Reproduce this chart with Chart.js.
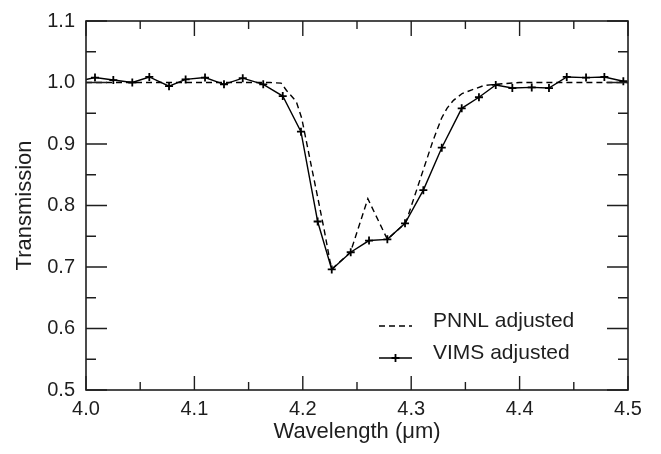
<!DOCTYPE html>
<html>
<head>
<meta charset="utf-8">
<script src="https://cdn.jsdelivr.net/npm/chart.js@4.4.1/dist/chart.umd.min.js"></script>
<style>
  html, body { margin: 0; padding: 0; background: #fff; }
  canvas { display: block; }
</style>
</head>
<body>
<canvas id="grafica" width="661" height="454"></canvas>
<script>
// datos
const vimsWavelength = [3.9915, 4.0083, 4.0252, 4.0427, 4.0584, 4.0766, 4.0919, 4.1098, 4.1273, 4.1446,
  4.1635, 4.1815, 4.1983, 4.2137, 4.2267, 4.2442, 4.2611, 4.2780, 4.2943, 4.3112,
  4.3282, 4.3466, 4.3625, 4.3780, 4.3933, 4.4112, 4.4271, 4.4435, 4.4613, 4.4782, 4.4957];
const vimsTransmission = [1.0015, 1.008, 1.004, 1.000, 1.009, 0.994, 1.005, 1.008, 0.997, 1.007,
  0.997, 0.978, 0.920, 0.774, 0.696, 0.724, 0.743, 0.745, 0.771, 0.825,
  0.894, 0.958, 0.976, 0.996, 0.991, 0.992, 0.991, 1.009, 1.008, 1.009, 1.002];

const pnnlWavelength = [4.000, 4.100, 4.170, 4.180, 4.185, 4.194, 4.199, 4.208, 4.214, 4.220,
  4.225, 4.227, 4.244, 4.260, 4.278, 4.295, 4.320, 4.328, 4.333, 4.339,
  4.347, 4.356, 4.367, 4.377, 4.400, 4.500];
const pnnlTransmission = [1.000, 1.000, 1.000, 0.999, 0.987, 0.969, 0.942, 0.863, 0.811, 0.758,
  0.710, 0.697, 0.724, 0.811, 0.745, 0.772, 0.905, 0.942, 0.958, 0.971,
  0.982, 0.988, 0.995, 0.997, 1.000, 1.000];

const xTicks = ["4.0", "4.1", "4.2", "4.3", "4.4", "4.5"];
const yTicks = ["0.5", "0.6", "0.7", "0.8", "0.9", "1.0", "1.1"];

const ink = "#1e1e1e";
const fam = "'Liberation Sans', Arial, sans-serif";

// marco con marcas hacia dentro en los cuatro lados
const marcoEjes = {
  id: "marcoEjes",
  afterDatasetsDraw(chart) {
    const { ctx, chartArea: a, scales: { x, y } } = chart;
    ctx.save();
    ctx.strokeStyle = ink;
    ctx.lineWidth = 1.6;
    ctx.strokeRect(a.left, a.top, a.right - a.left, a.bottom - a.top);
    ctx.lineWidth = 1.4;
    ctx.beginPath();
    const ny = Math.round((y.max - y.min) / 0.05);
    for (let i = 0; i <= ny; i++) {
      const py = y.getPixelForValue(y.min + i * 0.05);
      const len = i % 2 === 0 ? 21 : 10;
      ctx.moveTo(a.left, py); ctx.lineTo(a.left + len, py);
      ctx.moveTo(a.right, py); ctx.lineTo(a.right - len, py);
    }
    const nx = Math.round((x.max - x.min) / 0.05);
    for (let i = 0; i <= nx; i++) {
      const px = x.getPixelForValue(x.min + i * 0.05);
      const major = i % 2 === 0;
      ctx.moveTo(px, a.bottom); ctx.lineTo(px, a.bottom - (major ? 14 : 8));
      ctx.moveTo(px, a.top); ctx.lineTo(px, a.top + (major ? 15 : 8));
    }
    ctx.stroke();
    ctx.restore();
  }
};

// leyenda dentro del área, abajo a la derecha
const leyenda = {
  id: "leyenda",
  afterDatasetsDraw(chart) {
    const { ctx, chartArea: a } = chart;
    const x0 = a.right - 249, x1 = a.right - 216, tx = a.right - 195;
    const rows = [a.bottom - 64, a.bottom - 32];
    ctx.save();
    chart.data.datasets.forEach((ds, i) => {
      const yy = rows[i];
      ctx.strokeStyle = ds.borderColor;
      ctx.lineWidth = ds.borderWidth;
      ctx.setLineDash(ds.borderDash || []);
      ctx.beginPath();
      ctx.moveTo(x0, yy); ctx.lineTo(x1, yy);
      ctx.stroke();
      ctx.setLineDash([]);
      if (ds.pointRadius > 0) {
        const cx = (x0 + x1) / 2, r = ds.pointRadius;
        ctx.lineWidth = ds.pointBorderWidth;
        ctx.beginPath();
        ctx.moveTo(cx - r, yy); ctx.lineTo(cx + r, yy);
        ctx.moveTo(cx, yy - r); ctx.lineTo(cx, yy + r);
        ctx.stroke();
      }
      ctx.fillStyle = ink;
      ctx.font = "21px " + fam;
      ctx.textBaseline = "alphabetic";
      ctx.fillText(ds.label, tx, yy + 1);
    });
    ctx.restore();
  }
};

const ctx = document.getElementById("grafica").getContext("2d");

const chart = new Chart(ctx, {
  type: "line",
  data: {
    datasets: [
      {
        label: "PNNL adjusted",
        data: pnnlWavelength.map((w, i) => ({ x: w, y: pnnlTransmission[i] })),
        borderColor: "#000",
        borderWidth: 1.4,
        borderDash: [6, 4],
        pointRadius: 0,
        tension: 0
      },
      {
        label: "VIMS adjusted",
        data: vimsWavelength.map((w, i) => ({ x: w, y: vimsTransmission[i] })),
        borderColor: "#000",
        borderWidth: 1.4,
        pointStyle: "cross",
        pointRadius: 4,
        pointBorderWidth: 1.8,
        pointBorderColor: "#000",
        tension: 0
      }
    ]
  },
  options: {
    responsive: false,
    animation: false,
    devicePixelRatio: 1,
    layout: { padding: { top: 10, right: 33, left: 0, bottom: 0 } },
    plugins: { legend: { display: false }, tooltip: { enabled: false } },
    scales: {
      x: {
        type: "linear",
        min: 4.0,
        max: 4.5,
        grid: { display: false, drawTicks: false },
        border: { display: false },
        ticks: {
          stepSize: 0.1,
          padding: 9,
          maxRotation: 0,
          color: ink,
          font: { family: fam, size: 20, lineHeight: 1 },
          callback: (v, i) => xTicks[i]
        },
        title: {
          display: true,
          text: "Wavelength (μm)",
          color: ink,
          font: { family: fam, size: 22 },
          padding: { top: 0, bottom: 9 }
        },
        afterFit: s => { s.height = 64; }
      },
      y: {
        min: 0.5,
        max: 1.1,
        grid: { display: false, drawTicks: false },
        border: { display: false },
        ticks: {
          stepSize: 0.1,
          padding: 11,
          color: ink,
          font: { family: fam, size: 20, lineHeight: 1 },
          callback: (v, i) => yTicks[i]
        },
        title: {
          display: true,
          text: "Transmission",
          color: ink,
          font: { family: fam, size: 22 },
          padding: { top: 12, bottom: 0 }
        },
        afterFit: s => { s.width = 86; }
      }
    }
  },
  plugins: [marcoEjes, leyenda]
});
</script>
</body>
</html>
